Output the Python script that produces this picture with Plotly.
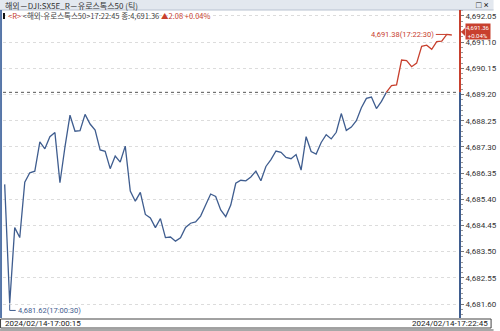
import plotly.graph_objects as go

# ---------------- data ----------------
title_text = "해외－DJI:SX5E_R－유로스톡스50 (틱)"
start_label = "2024/02/14-17:00:15"
end_label = "2024/02/14-17:22:45"
last_time = "17:22:45"
last_price = 4691.36
change = 2.08
change_pct = "+0.04%"
prev_close = 4689.28
low_value, low_time, low_index = 4681.62, "17:00:30", 1
high_value, high_time, high_index = 4691.38, "17:22:30", 88

prices = [
    4685.94, 4681.62, 4684.37, 4684.01, 4686.02, 4686.36, 4686.42, 4687.48, 4687.23, 4687.67,
    4687.82, 4686.00, 4687.30, 4688.45, 4687.87, 4687.89, 4688.48, 4688.13, 4687.91, 4687.19,
    4687.14, 4686.51, 4686.97, 4686.75, 4687.33, 4685.70, 4685.33, 4685.65, 4684.85, 4684.72,
    4684.37, 4684.70, 4684.01, 4684.03, 4683.88, 4684.00, 4684.38, 4684.53, 4684.58, 4684.79,
    4685.19, 4685.59, 4685.50, 4685.01, 4684.77, 4685.19, 4685.98, 4686.09, 4686.07, 4686.21,
    4686.42, 4686.07, 4686.59, 4686.84, 4687.15, 4687.10, 4686.92, 4686.87, 4687.02, 4686.46,
    4687.67, 4687.13, 4687.04, 4687.46, 4687.74, 4687.59, 4687.83, 4688.51, 4687.90, 4688.02,
    4688.25, 4688.72, 4689.06, 4689.11, 4688.69, 4688.95, 4689.29, 4689.52, 4689.55, 4690.45,
    4690.43, 4690.21, 4690.34, 4690.95, 4690.99, 4690.84, 4691.12, 4691.14, 4691.38, 4691.36,
]
y_ticks = [4681.60, 4682.55, 4683.50, 4684.45, 4685.40, 4686.35, 4687.30, 4688.25,
           4689.20, 4690.15, 4691.10, 4692.05]

# ---------------- styling ----------------
W, H = 500, 331
ML, MR, MT, MB = 3, 34, 10, 13
PW, PH = W - ML - MR, H - MT - MB
BLUE = "#3f5d8f"
RED = "#c8402e"
NUM_FONT = "Roboto, Liberation Sans, sans-serif"
KR_FONT = "Noto Sans CJK KR, sans-serif"


def px_x(p):
    return (p - ML) / PW


def px_y(p):
    return (H - MB - p) / PH


# split line at previous close: blue below, red above
xs, ys = [0], [prices[0]]
for i in range(1, len(prices)):
    a, b = prices[i - 1], prices[i]
    if (a - prev_close) * (b - prev_close) < 0:
        t = (prev_close - a) / (b - a)
        xs.append(i - 1 + t)
        ys.append(prev_close)
    xs.append(i)
    ys.append(b)
blue_y = [v if v <= prev_close + 1e-9 else None for v in ys]
red_y = [v if v >= prev_close - 1e-9 else None for v in ys]

fig = go.Figure()
fig.add_trace(go.Scatter(x=xs, y=blue_y, mode="lines", line=dict(color=BLUE, width=1.3),
                         connectgaps=False, hoverinfo="skip"))
fig.add_trace(go.Scatter(x=xs, y=red_y, mode="lines", line=dict(color=RED, width=1.3),
                         connectgaps=False, hoverinfo="skip"))

shapes = []
# header bar
shapes.append(dict(type="rect", xref="paper", yref="paper", x0=px_x(0), x1=px_x(W),
                   y0=px_y(10), y1=px_y(0), fillcolor="#e3e8ef", line=dict(width=0), layer="above"))
shapes.append(dict(type="line", xref="paper", yref="paper", x0=px_x(0), x1=px_x(W),
                   y0=px_y(10), y1=px_y(10), line=dict(color="#b8c2d0", width=1)))
# left frame
shapes.append(dict(type="rect", xref="paper", yref="paper", x0=px_x(0), x1=px_x(2),
                   y0=px_y(318), y1=px_y(10), fillcolor="#5676a8", line=dict(width=0)))
# previous close reference line
shapes.append(dict(type="line", xref="paper", yref="y", x0=0, x1=1, y0=prev_close, y1=prev_close,
                   line=dict(color="#555555", width=1, dash="dot")))
# axis line: red above reference, blue below
shapes.append(dict(type="line", xref="paper", yref="y", x0=1, x1=1, y0=prev_close,
                   y1=4692.3, line=dict(color=RED, width=2)))
shapes.append(dict(type="line", xref="paper", yref="y", x0=1, x1=1, y0=4681.05,
                   y1=prev_close, line=dict(color=BLUE, width=2)))
# date box
shapes.append(dict(type="rect", xref="paper", yref="paper", x0=px_x(0.5), x1=px_x(497.5),
                   y0=px_y(328), y1=px_y(319), fillcolor="white", line=dict(color="#444", width=1)))
shapes.append(dict(type="rect", xref="paper", yref="paper", x0=px_x(0), x1=px_x(W),
                   y0=px_y(331), y1=px_y(329), fillcolor="#a8a8a8", line=dict(width=0)))
# header marker
shapes.append(dict(type="rect", xref="paper", yref="paper", x0=px_x(3), x1=px_x(5),
                   y0=px_y(19), y1=px_y(13), fillcolor="#111", line=dict(width=0)))
# price pointer triangle
shapes.append(dict(type="path", xref="paper", yref="y", xsizemode="pixel", ysizemode="pixel",
                   xanchor=1, yanchor=last_price, path="M1,3 L5,7 L5,-1 Z",
                   fillcolor=RED, line=dict(width=0)))
# low marker L-line
shapes.append(dict(type="path", xref="x", yref="y", xsizemode="pixel", ysizemode="pixel",
                   xanchor=low_index, yanchor=low_value, path="M0,-1 L0,-7 L6,-7",
                   line=dict(color=BLUE, width=1)))

annotations = []
annotations.append(dict(xref="paper", yref="paper", x=px_x(3), y=px_y(5), xanchor="left",
                        yanchor="middle", showarrow=False, text=title_text,
                        font=dict(family=KR_FONT, size=8, color="#333")))
annotations.append(dict(xref="paper", yref="paper", x=px_x(497), y=px_y(5), xanchor="right",
                        yanchor="middle", showarrow=False, text="□ ×",
                        font=dict(family=NUM_FONT, size=9, color="#222")))
hdr = (f"<span style='color:{RED}'>&lt;R&gt;</span> "
       f"<span style='color:#444'>&lt;해외-유로스톡스50&gt;{last_time} 종:{last_price:,.2f}</span> "
       f"<span style='color:{RED}'>▲{change:.2f} {change_pct}</span>")
annotations.append(dict(xref="paper", yref="paper", x=px_x(6), y=px_y(16), xanchor="left",
                        yanchor="middle", showarrow=False, text=hdr,
                        font=dict(family=KR_FONT, size=7.5, color="#444")))
# high label
annotations.append(dict(xref="x", yref="y", x=high_index, y=high_value, ax=-11, ay=0,
                        showarrow=True, arrowhead=0, arrowwidth=1, arrowcolor=RED, standoff=0,
                        xanchor="right", yanchor="middle",
                        text=f"{high_value:,.2f}({high_time})",
                        font=dict(family=NUM_FONT, size=7.5, color=RED)))
# low label
annotations.append(dict(xref="x", yref="y", x=low_index, y=low_value, xshift=6, yshift=-7,
                        showarrow=False, xanchor="left", yanchor="middle",
                        text=f"{low_value:,.2f}({low_time})",
                        font=dict(family=NUM_FONT, size=7.5, color=BLUE)))
# last price box
annotations.append(dict(xref="paper", yref="y", x=1, y=last_price, xshift=5, yshift=4,
                        xanchor="left", yanchor="middle", showarrow=False,
                        text=f"{last_price:,.2f}<br>{change_pct}", bgcolor=RED, borderpad=0,
                        align="center", font=dict(family=NUM_FONT, size=6, color="white")))
# date labels
annotations.append(dict(xref="paper", yref="paper", x=px_x(3), y=px_y(323.5), xanchor="left",
                        yanchor="middle", showarrow=False, text=start_label,
                        font=dict(family=NUM_FONT, size=8, color="#222")))
annotations.append(dict(xref="paper", yref="paper", x=px_x(496), y=px_y(323.5), xanchor="right",
                        yanchor="middle", showarrow=False, text=end_label,
                        font=dict(family=NUM_FONT, size=8, color="#222")))

fig.update_layout(
    width=W, height=H,
    margin=dict(l=ML, r=MR, t=MT, b=MB, pad=0),
    paper_bgcolor="white", plot_bgcolor="white",
    showlegend=False,
    shapes=shapes, annotations=annotations,
    xaxis=dict(range=[-0.334, 90.63], showgrid=False, zeroline=False,
               showticklabels=False, ticks="", showline=False, fixedrange=True),
    yaxis=dict(side="right", range=[4681.092, 4692.267], tickvals=y_ticks,
               ticktext=[f"{v:,.2f}" for v in y_ticks], showgrid=True, gridcolor="#dcdcdc",
               griddash="dot", gridwidth=1, zeroline=False, showline=False,
               ticks="outside", ticklen=3, tickcolor="#777",
               minor=dict(ticks="outside", ticklen=2, tickcolor="#999", tick0=4681.60,
                          dtick=0.19, showgrid=False),
               tickfont=dict(family=NUM_FONT, size=8, color="#333"), fixedrange=True),
)

fig.write_html("out.html")
